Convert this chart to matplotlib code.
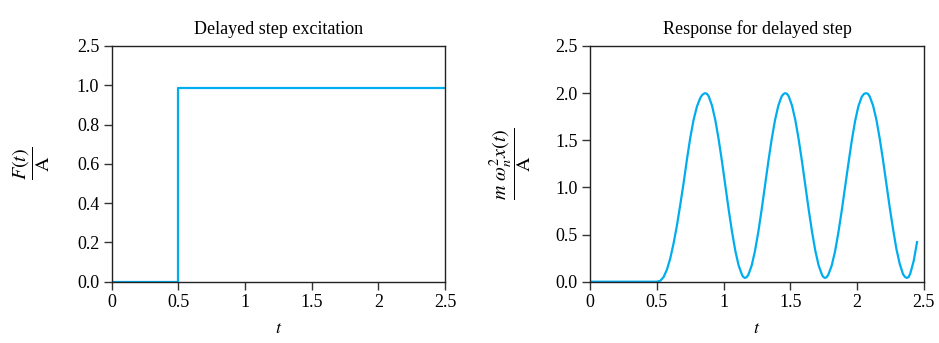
import matplotlib.pyplot as plt

plt.rcParams['font.family'] = ['Liberation Serif', 'DejaVu Serif']
plt.rcParams['mathtext.fontset'] = 'stix'

LINE_COLOR = '#00aeef'

# delayed step excitation F(t)/A
step_t = [0.0, 0.5, 0.5, 2.5]
step_f = [0.0, 0.0, 0.985, 0.985]

# response m*wn^2*x(t)/A
resp_t = [0.0, 0.25, 0.5, 0.525, 0.55, 0.575, 0.6, 0.625, 0.65, 0.675, 0.7,
          0.725, 0.75, 0.775, 0.8, 0.825, 0.8375, 0.85, 0.8625, 0.875,
          0.8875, 0.9125, 0.9375, 0.9625, 0.9875, 1.0125, 1.0375, 1.0625,
          1.0875, 1.1125, 1.1375, 1.1475, 1.16, 1.1725,
          1.185, 1.21, 1.235, 1.26, 1.285, 1.31, 1.335, 1.36, 1.385, 1.41,
          1.435, 1.45, 1.4625, 1.475,
          1.4875, 1.5125, 1.5375, 1.5625, 1.5875, 1.6125, 1.6375, 1.6625,
          1.6875, 1.7125, 1.7375, 1.7475, 1.76, 1.7725,
          1.785, 1.81, 1.835, 1.86, 1.885, 1.91, 1.935, 1.96, 1.985, 2.01,
          2.035, 2.0525, 2.068, 2.0825,
          2.095, 2.12, 2.145, 2.17, 2.195, 2.22, 2.245, 2.27, 2.295, 2.32,
          2.345, 2.36, 2.375, 2.3875,
          2.40, 2.425, 2.45]
resp_x = [0.0, 0.0, 0.0, 0.01, 0.05, 0.13, 0.25, 0.41, 0.6, 0.82, 1.05,
          1.3, 1.53, 1.72, 1.86, 1.95, 1.978, 1.993, 2.0, 1.992,
          1.967, 1.869, 1.713, 1.51, 1.274, 1.02, 0.766, 0.53,
          0.327, 0.171, 0.073, 0.05, 0.04, 0.048,
          0.073, 0.171, 0.327, 0.53, 0.766, 1.02, 1.274, 1.51, 1.713, 1.869,
          1.967, 1.992, 2.0, 1.992,
          1.967, 1.869, 1.713, 1.51, 1.274, 1.02, 0.766, 0.53,
          0.327, 0.171, 0.073, 0.05, 0.04, 0.048,
          0.075, 0.17, 0.32, 0.52, 0.75, 1.0, 1.25, 1.49, 1.70, 1.86,
          1.96, 1.992, 2.0, 1.992,
          1.965, 1.87, 1.72, 1.52, 1.29, 1.04, 0.79, 0.56, 0.35, 0.19,
          0.08, 0.05, 0.04, 0.05,
          0.09, 0.22, 0.42]

x_ticks = [0, 0.5, 1, 1.5, 2, 2.5]
x_ticklabels = ['0', '0.5', '1', '1.5', '2', '2.5']
left_yticks = [0.0, 0.2, 0.4, 0.6, 0.8, 1.0, 1.2]
left_yticklabels = ['0.0', '0.2', '0.4', '0.6', '0.8', '1.0', '2.5']
right_yticks = [0.0, 0.5, 1.0, 1.5, 2.0, 2.5]
right_yticklabels = ['0.0', '0.5', '1.0', '1.5', '2.0', '2.5']

fig = plt.figure(figsize=(9.39, 3.43), dpi=100)
ax1 = fig.add_axes([111.7 / 939, 1 - 281.7 / 343, 333.3 / 939, 235.7 / 343])
ax2 = fig.add_axes([590.3 / 939, 1 - 281.7 / 343, 333.4 / 939, 235.7 / 343])


def style_axes(ax):
    for sp in ax.spines.values():
        sp.set_linewidth(1.0)
        sp.set_color('#222222')
    ax.tick_params(direction='out', length=6, width=1.0, color='#333333',
                   labelsize=13, pad=3, top=False, right=False)
    ax.set_xlim(0, 2.5)
    ax.set_xticks(x_ticks)
    ax.set_xticklabels(x_ticklabels)
    ax.set_xlabel('$t$', fontsize=13, labelpad=6)


ax1.plot(step_t, step_f, color=LINE_COLOR, linewidth=1.6)
style_axes(ax1)
ax1.set_ylim(0, 1.2)
ax1.set_yticks(left_yticks)
ax1.set_yticklabels(left_yticklabels)
ax1.set_ylabel(r'$\dfrac{F(t)}{\mathrm{A}}$', fontsize=14.5, labelpad=18)
ax1.set_title('Delayed step excitation', fontsize=13, pad=9)

ax2.plot(resp_t, resp_x, color=LINE_COLOR, linewidth=1.6)
style_axes(ax2)
ax2.set_ylim(0, 2.5)
ax2.set_yticks(right_yticks)
ax2.set_yticklabels(right_yticklabels)
ax2.set_ylabel(r'$\dfrac{m\ \omega_n^2 x(t)}{\mathrm{A}}$', fontsize=14.5, labelpad=15)
ax2.set_title('Response for delayed step', fontsize=13, pad=9)

fig.savefig('out.png', dpi=100)
